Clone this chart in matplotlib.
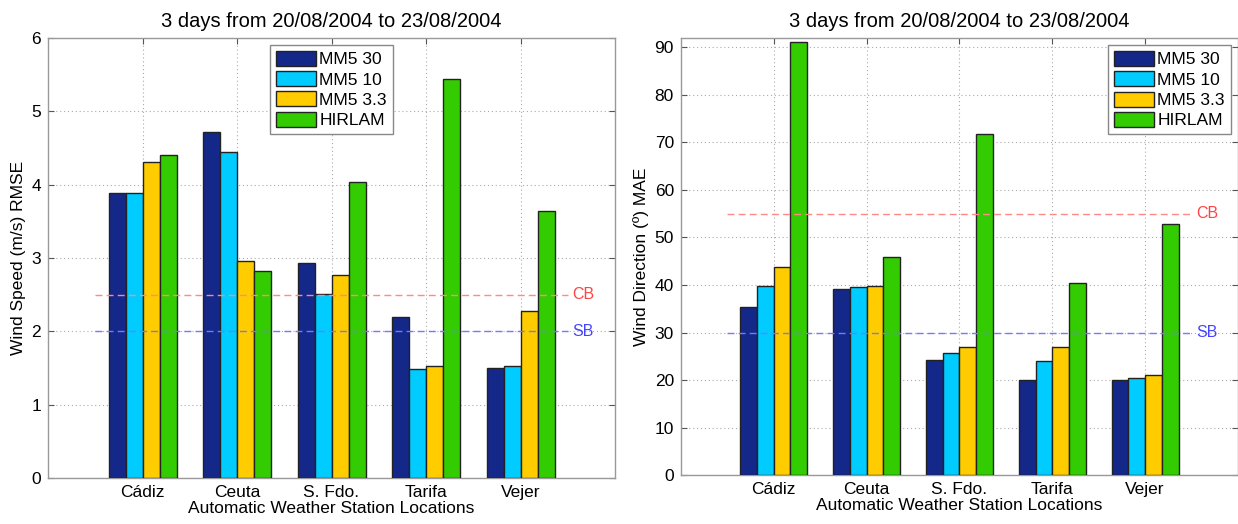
import numpy as np
import matplotlib
matplotlib.use("Agg")
import matplotlib.pyplot as plt

plt.rcParams['font.family'] = ['Liberation Sans', 'DejaVu Sans']

stations = ["Cádiz", "Ceuta", "S. Fdo.", "Tarifa", "Vejer"]
models = ["MM5 30", "MM5 10", "MM5 3.3", "HIRLAM"]
colors = ["#14288a", "#00ccff", "#ffcc00", "#33cc00"]

# Wind speed RMSE (m/s), one list per model, ordered as stations
rmse_mm5_30 = [3.88, 4.72, 2.93, 2.19, 1.50]
rmse_mm5_10 = [3.89, 4.44, 2.51, 1.49, 1.53]
rmse_mm5_33 = [4.31, 2.96, 2.77, 1.52, 2.27]
rmse_hirlam = [4.40, 2.82, 4.04, 5.44, 3.64]

# Wind direction MAE (degrees)
mae_mm5_30 = [35.4, 39.1, 24.2, 19.9, 20.1]
mae_mm5_10 = [39.8, 39.6, 25.6, 24.0, 20.4]
mae_mm5_33 = [43.8, 39.7, 27.0, 27.0, 21.1]
mae_hirlam = [91.2, 45.9, 71.8, 40.4, 52.9]

# Reference thresholds
speed_cb, speed_sb = 2.5, 2.0
dir_cb, dir_sb = 55.0, 30.0

title = "3 days from 20/08/2004 to 23/08/2004"
xlabel = "Automatic Weather Station Locations"

fig = plt.figure(figsize=(12.38, 5.24), dpi=100)
ax1 = fig.add_axes([0.0388, 0.0878, 0.458, 0.840])
ax2 = fig.add_axes([0.550, 0.0935, 0.450, 0.834])

bar_w = 0.18
offsets = (np.arange(4) - 1.5) * bar_w
x = np.arange(1, len(stations) + 1)


def draw(ax, series, ylim, yticks, ylabel, cb, sb, legend_loc):
    for i, (vals, c, lab) in enumerate(zip(series, colors, models)):
        ax.bar(x + offsets[i], vals, width=bar_w, color=c, edgecolor="#222222",
               linewidth=1.0, label=lab, zorder=3)
    ax.set_xlim(0, 6)
    ax.set_ylim(*ylim)
    ax.set_xticks(x)
    ax.set_xticklabels(stations, fontsize=12.5)
    ax.set_yticks(yticks)
    ax.tick_params(axis="y", labelsize=12.5)
    ax.tick_params(direction="in", top=True, right=True, length=4,
                   color="#555555", pad=5)
    ax.grid(True, linestyle=(0, (1, 2.5)), color="#aaaaaa", linewidth=0.8, zorder=0)
    for s in ax.spines.values():
        s.set_color("#999999")
        s.set_linewidth(1.0)
    ax.set_title(title, fontsize=14.5, pad=8)
    ax.set_xlabel(xlabel, fontsize=12.5, labelpad=1)
    ax.set_ylabel(ylabel, fontsize=12.5, labelpad=4)
    ax.plot([0.5, 5.5], [cb, cb], linestyle=(0, (5, 3)), color="#ff8888",
            linewidth=1.0, zorder=4)
    ax.plot([0.5, 5.5], [sb, sb], linestyle=(0, (5, 3)), color="#7777ff",
            linewidth=1.0, zorder=4)
    ax.text(5.55, cb, "CB", color="#ff4444", fontsize=11.5, va="center", ha="left")
    ax.text(5.55, sb, "SB", color="#4444ff", fontsize=11.5, va="center", ha="left")
    leg = ax.legend(loc=legend_loc, fontsize=12.5, handlelength=2.3,
                    handleheight=0.95, labelspacing=0.22, handletextpad=0.2,
                    borderpad=0.35, borderaxespad=0.4, fancybox=False,
                    framealpha=1.0, edgecolor="#888888")
    leg.get_frame().set_linewidth(1.0)


draw(ax1, [rmse_mm5_30, rmse_mm5_10, rmse_mm5_33, rmse_hirlam],
     (0, 6), np.arange(0, 7, 1), "Wind Speed (m/s) RMSE",
     speed_cb, speed_sb, "upper center")
draw(ax2, [mae_mm5_30, mae_mm5_10, mae_mm5_33, mae_hirlam],
     (0, 92), np.arange(0, 100, 10), "Wind Direction (º) MAE",
     dir_cb, dir_sb, "upper right")

fig.savefig("out.png", dpi=100)
